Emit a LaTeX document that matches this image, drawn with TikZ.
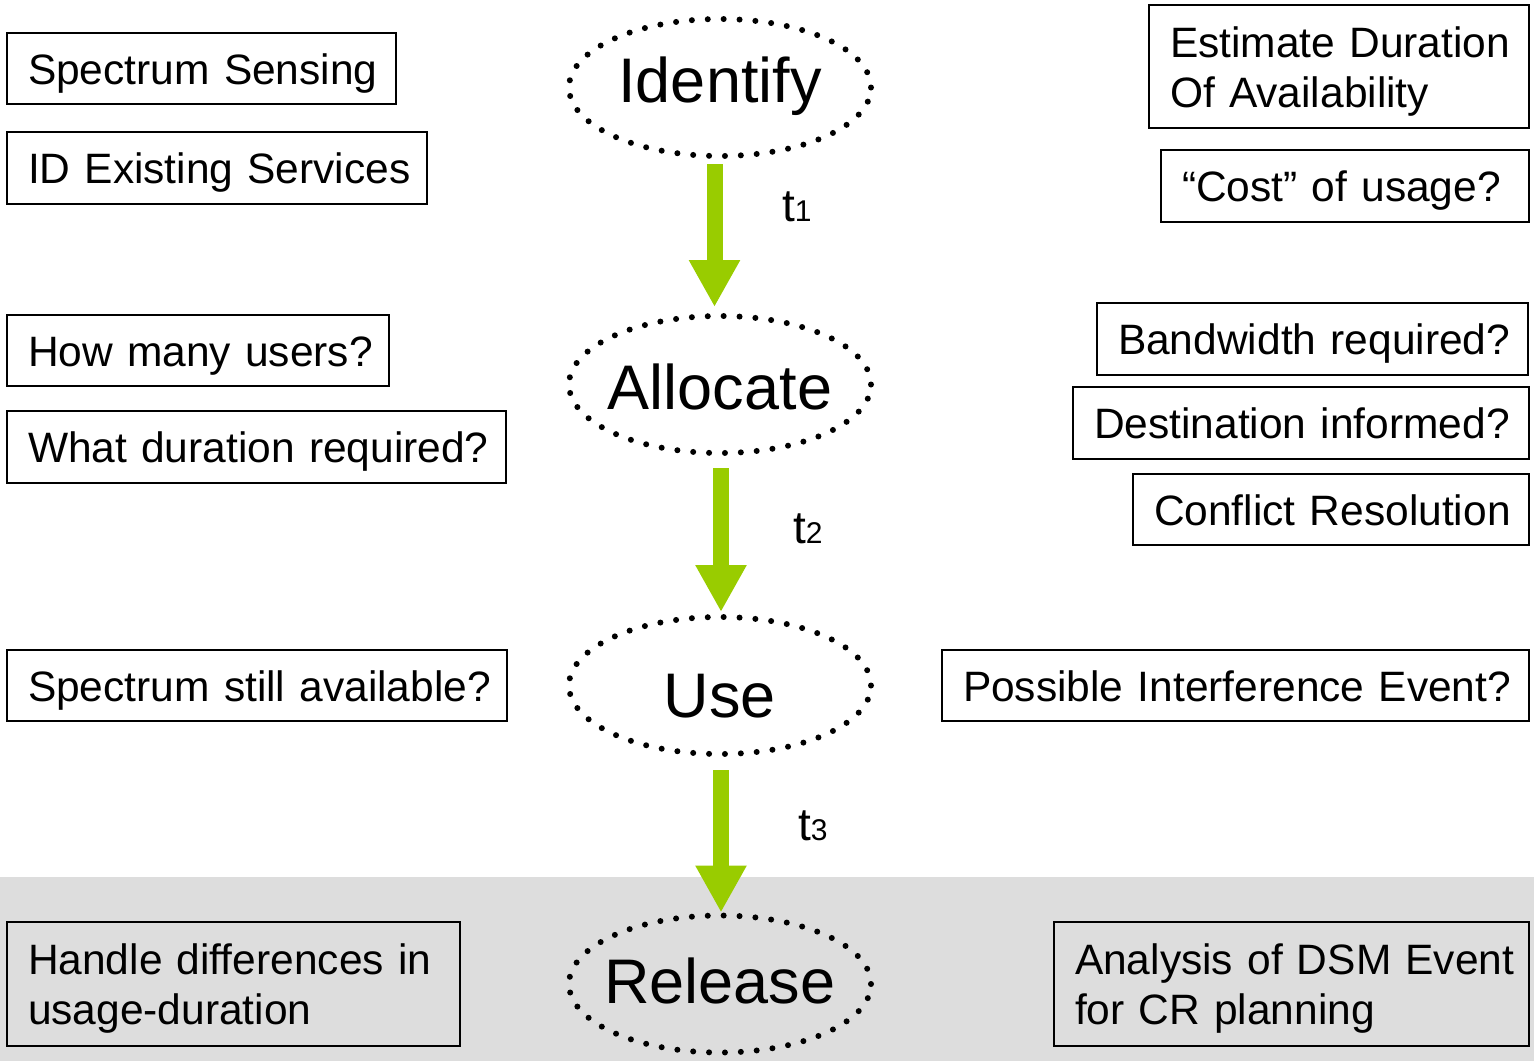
\documentclass[tikz,border=0pt]{standalone}
\usepackage{fontspec}
\setmainfont{Liberation Sans}
\usetikzlibrary{shapes.geometric,arrows.meta}
\definecolor{flowgreen}{RGB}{153,204,0}
\definecolor{bggray}{RGB}{221,221,221}
\tikzset{
  infobox/.style={draw=black, line width=2pt, inner sep=0pt, outer sep=0pt,
    text height=31pt, text depth=0pt, align=left, anchor=north west,
    font=\fontsize{42.5}{50}\selectfont},
  twoline/.style={text depth=50pt},
  stage/.style={ellipse, draw=black, line width=6pt, dash pattern=on 0pt off 15.9pt,
    line cap=round, minimum width=302pt, minimum height=137pt, inner sep=0pt,
    outer sep=0pt, text depth=0pt, font=\fontsize{63}{63}\selectfont},
  flow/.style={draw=flowgreen, line width=16pt, -{Triangle[width=48pt,length=47pt]}},
  tlabel/.style={anchor=base west, inner sep=0pt, font=\fontsize{46}{46}\selectfont}
}
\newcommand{\subdig}[1]{{\fontsize{30}{30}\selectfont #1}}
\begin{document}
\begin{tikzpicture}[x=1pt,y=-1pt]
\useasboundingbox (0,0) rectangle (1534,1061);
\fill[bggray] (0,877) rectangle (1534,1061);

% stages
\node[stage, text height=29pt] (identify) at (720,87.5) {\makebox[0pt]{Identify}};
\node[stage, text height=49pt] (allocate) at (720,384.5) {\makebox[0pt]{Allocate}};
\node[stage, text height=63pt] (use) at (720,685.5) {\makebox[0pt]{Use}};
\node[stage, text height=38pt] (release) at (720,984) {\makebox[0pt]{Release}};

% arrows
\draw[flow, shorten <=8pt, shorten >=9pt] ([xshift=-5.5pt]identify.south) -- ([xshift=-5.5pt]allocate.north);
\draw[flow, shorten <=15pt, shorten >=5pt] ([xshift=1pt]allocate.south) -- ([xshift=1pt]use.north);
\draw[flow, shorten <=16pt, shorten >=3pt] ([xshift=1pt]use.south) -- ([xshift=1pt]release.north);

% time labels
\node[tlabel] (t1) at (782,221) {t\subdig{1}};
\node[tlabel] (t2) at (793,543) {t\subdig{2}};
\node[tlabel] (t3) at (798,840) {t\subdig{3}};

% left boxes
\node[infobox, minimum width=389pt, text width=347pt, minimum height=71pt] (ss) at (7,33) {\mbox{Spectrum Sensing}};
\node[infobox, minimum width=420pt, text width=378pt, minimum height=72pt] (ides) at (7,132) {\mbox{ID Existing Services}};
\node[infobox, minimum width=382pt, text width=340pt, minimum height=71pt] (hmu) at (7,315) {\mbox{How many users?}};
\node[infobox, minimum width=499pt, text width=457pt, minimum height=72pt] (wdr) at (7,411) {\mbox{What duration required?}};
\node[infobox, minimum width=500pt, text width=458pt, minimum height=71pt] (ssa) at (7,650) {\mbox{Spectrum still available?}};
\node[infobox, twoline, minimum width=453pt, text width=411pt, minimum height=124pt] (hdu) at (7,922) {\mbox{Handle differences in}\\\mbox{usage-duration}};

% right boxes
\node[infobox, twoline, minimum width=380pt, text width=338pt, minimum height=123pt] (eda) at (1149,5) {\mbox{Estimate Duration}\\\mbox{Of Availability}};
\node[infobox, minimum width=368pt, text width=326pt, minimum height=72pt] (cost) at (1161,150) {\mbox{“Cost” of usage?}};
\node[infobox, minimum width=431pt, text width=389pt, minimum height=72pt] (bw) at (1097,303) {\mbox{Bandwidth required?}};
\node[infobox, minimum width=456pt, text width=414pt, minimum height=72pt] (di) at (1073,387) {\mbox{Destination informed?}};
\node[infobox, minimum width=396pt, text width=354pt, minimum height=71pt] (cr) at (1133,474) {\mbox{Conflict Resolution}};
\node[infobox, minimum width=587pt, text width=545pt, minimum height=71pt] (pie) at (942,650) {\mbox{Possible Interference Event?}};
\node[infobox, twoline, minimum width=475pt, text width=433pt, minimum height=124pt] (dsm) at (1054,922) {\mbox{Analysis of DSM Event}\\\mbox{for CR planning}};
\end{tikzpicture}
\end{document}
